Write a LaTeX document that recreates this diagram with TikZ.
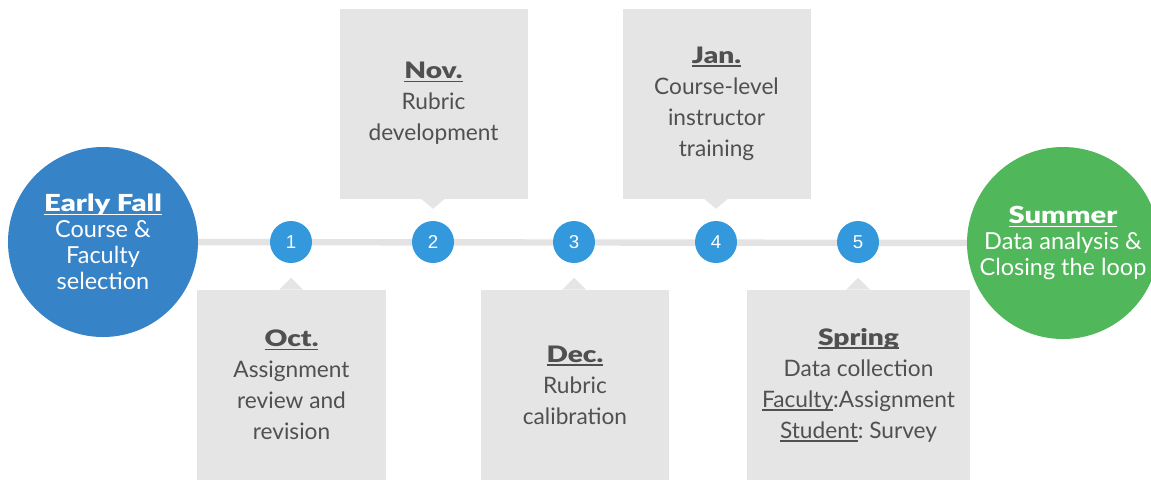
\documentclass[tikz,border=0pt]{standalone}
\usepackage{fontspec}
\setmainfont{Lato}
\newfontfamily\heavy[FakeStretch=1.24]{Lato Black}
\newfontfamily\numfont{Liberation Sans}
\usetikzlibrary{calc,backgrounds}
\frenchspacing
\definecolor{fallblue}{RGB}{54,131,199}
\definecolor{stepblue}{RGB}{52,152,221}
\definecolor{sumgreen}{RGB}{80,183,90}
\definecolor{boxgray}{RGB}{229,229,229}
\definecolor{linegray}{RGB}{227,227,227}
\definecolor{txtgray}{RGB}{80,80,80}
\newcommand{\uln}[1]{\setbox0\hbox{#1}\rlap{\rule[-2.6pt]{\wd0}{1.1pt}}\box0}
\newcommand{\hd}[1]{{\heavy\uln{#1}}}
\tikzset{
  bigcirc/.style={circle,inner sep=0pt,align=center,text=white,
    font=\fontsize{17.6}{19.5}\selectfont},
  numcirc/.style={circle,fill=stepblue,inner sep=0pt,minimum size=31.5pt,
    text=white,font=\numfont\fontsize{14}{14}\selectfont},
  evbox/.style={rectangle,fill=boxgray,inner sep=0pt,minimum height=142.5pt,
    minimum width=141pt,align=center,text=txtgray,
    font=\fontsize{17}{23.25}\selectfont},
  ptr/.style={fill=boxgray},
  tline/.style={draw=linegray,line width=4.8pt}
}
\begin{document}
\begin{tikzpicture}[x=0.75pt,y=-0.75pt]
\useasboundingbox (0,0) rectangle (1151,480);
\clip (0,0) rectangle (1151,480);
\node[bigcirc,fill=fallblue,minimum size=142.5pt] (fall) at (103,242)
  {\hd{Early Fall}\\Course \&\\Faculty\\selection};
\node[bigcirc,fill=sumgreen,minimum size=144pt] (summer) at (1063,243)
  {\hd{Summer}\\Data analysis \&\\Closing the loop};
\node[numcirc] (n1) at (291,242) {1};
\node[numcirc] (n2) at (433,242) {2};
\node[numcirc] (n3) at (574,242) {3};
\node[numcirc] (n4) at (716,242) {4};
\node[numcirc] (n5) at (858,242) {5};
\begin{scope}[on background layer]
\draw[tline] (fall.center) -- (summer.center);
\end{scope}
\node[evbox] (nov) at (433.5,103.5)
  {\hd{Nov.}\\Rubric\\development};
\node[evbox] (jan) at (716.5,103.5)
  {\hd{Jan.}\\Course-level\\instructor\\training};
\node[evbox,minimum width=141.75pt] (oct) at (291.5,385)
  {\hd{Oct.}\\Assignment\\review and\\revision};
\node[evbox] (dec) at (575,385)
  {\hd{Dec.}\\Rubric\\calibration};
\node[evbox,minimum width=167.25pt] (spring) at (858.5,385)
  {\hd{Spring}\\Data collection\\\uln{Faculty}:Assignment\\\uln{Student}: Survey};
% pointers
\fill[ptr] ($(nov.south -| n2)+(-12,0)$) -- ($(nov.south -| n2)+(0,10)$) -- ($(nov.south -| n2)+(12,0)$) -- cycle;
\fill[ptr] ($(jan.south -| n4)+(-12,0)$) -- ($(jan.south -| n4)+(0,10)$) -- ($(jan.south -| n4)+(12,0)$) -- cycle;
\fill[ptr] ($(oct.north -| n1)+(-12,0)$) -- ($(oct.north -| n1)+(0,-12)$) -- ($(oct.north -| n1)+(12,0)$) -- cycle;
\fill[ptr] ($(dec.north -| n3)+(-12,0)$) -- ($(dec.north -| n3)+(0,-12)$) -- ($(dec.north -| n3)+(12,0)$) -- cycle;
\fill[ptr] ($(spring.north -| n5)+(-12,0)$) -- ($(spring.north -| n5)+(0,-12)$) -- ($(spring.north -| n5)+(12,0)$) -- cycle;
\end{tikzpicture}
\end{document}
